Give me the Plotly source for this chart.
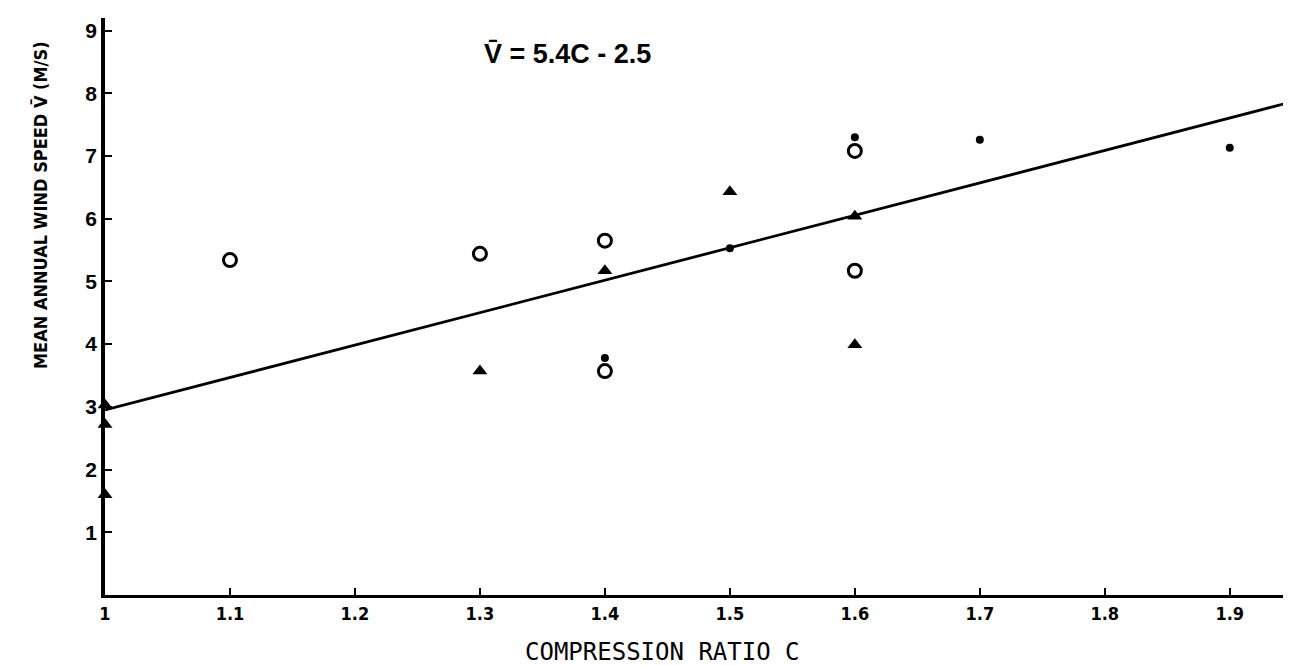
import plotly.graph_objects as go

# Data
open_x = [1.1, 1.3, 1.4, 1.4, 1.6, 1.6]
open_y = [5.34, 5.44, 5.65, 3.57, 7.08, 5.17]

tri_x = [1.0, 1.0, 1.0, 1.3, 1.4, 1.5, 1.6, 1.6]
tri_y = [3.03, 2.72, 1.6, 3.57, 5.17, 6.43, 6.04, 3.99]

dot_x = [1.4, 1.5, 1.6, 1.7, 1.9]
dot_y = [3.78, 5.53, 7.30, 7.26, 7.13]

line_x = [1.0, 1.953]
line_y = [2.95, 7.88]

x_tickvals = [1.0, 1.1, 1.2, 1.3, 1.4, 1.5, 1.6, 1.7, 1.8, 1.9]
x_ticktext = ["1", "1.1", "1.2", "1.3", "1.4", "1.5", "1.6", "1.7", "1.8", "1.9"]
y_tickvals = [1, 2, 3, 4, 5, 6, 7, 8, 9]
y_ticktext = ["1", "2", "3", "4", "5", "6", "7", "8", "9"]

fig = go.Figure()
fig.add_trace(go.Scatter(x=line_x, y=line_y, mode="lines",
                         line=dict(color="black", width=2.8), showlegend=False,
                         cliponaxis=False))
fig.add_trace(go.Scatter(x=open_x, y=open_y, mode="markers",
                         marker=dict(symbol="circle-open", size=13, color="black",
                                     line=dict(width=3, color="black")),
                         showlegend=False, cliponaxis=False))
fig.add_trace(go.Scatter(x=tri_x, y=tri_y, mode="markers",
                         marker=dict(symbol="triangle-up", size=13, color="black"),
                         showlegend=False, cliponaxis=False))
fig.add_trace(go.Scatter(x=dot_x, y=dot_y, mode="markers",
                         marker=dict(symbol="circle", size=8, color="black"),
                         showlegend=False, cliponaxis=False))

fig.update_layout(
    width=1291, height=666,
    margin=dict(l=97, r=3, t=10, b=79),
    paper_bgcolor="white", plot_bgcolor="white",
    font=dict(family="Liberation Sans, Arial, sans-serif", color="black"),
    xaxis=dict(range=[1.0, 1.953], tickvals=x_tickvals, ticktext=x_ticktext,
               showgrid=False, zeroline=False, showline=True, linecolor="black",
               linewidth=3, ticks="inside", ticklen=7, tickwidth=2, tickcolor="black",
               ticklabelstandoff=0,
               tickfont=dict(family="DejaVu Sans Condensed", size=18, color="black", weight="bold")),
    yaxis=dict(range=[0, 9.2], tickvals=y_tickvals, ticktext=y_ticktext,
               showgrid=False, zeroline=False, showline=True, linecolor="black",
               linewidth=3.5, ticks="inside", ticklen=7, tickwidth=2, tickcolor="black",
               tickfont=dict(family="Liberation Sans", size=21, color="black", weight="bold")),
    annotations=[
        dict(text="V\u0304 = 5.4C - 2.5", x=1.302, y=8.62, xref="x", yref="y",
             xanchor="left", yanchor="middle", showarrow=False,
             font=dict(family="Liberation Sans", size=27, color="black", weight="bold")),
        dict(text="COMPRESSION RATIO C", x=(654 - 97) / 1191, y=(587 - 644) / 577,
             xref="paper", yref="paper", xanchor="center", yanchor="middle",
             showarrow=False,
             font=dict(family="DejaVu Sans Mono", size=24, color="black")),
        dict(text="MEAN ANNUAL WIND SPEED V\u0304 (M/S)", x=(32 - 97) / 1191,
             y=(587 - 197) / 577, xref="paper", yref="paper", xanchor="center",
             yanchor="middle", textangle=-90, showarrow=False,
             font=dict(family="DejaVu Sans Condensed", size=18, color="black", weight="bold")),
    ],
)

fig.write_html("out.html")
